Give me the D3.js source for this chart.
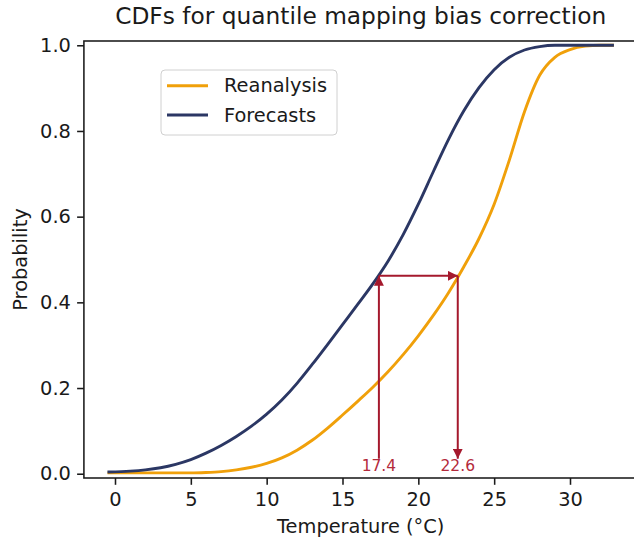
<!DOCTYPE html>
<html lang="en">
	<head>
		<meta charset="utf-8">
		<title>CDFs for quantile mapping bias correction</title>
		<script src="https://d3js.org/d3.v7.min.js"></script>
		<style type="text/css">
		body {
			margin: 0;
			background: white;
		}
		text {
			font-family: "DejaVu Sans", sans-serif;
			fill: #1a1a1a;
		}
		.tick text {
			font-size: 19.4px;
		}
		</style>
	</head>
	<body>
		<div id="chart"></div>
		<script type="text/javascript">

		//Data
		var temps = [-0.4, 1, 2, 3, 4, 5, 6, 7, 8, 9, 10, 11, 12, 13, 14, 15, 16,
			17, 18, 19, 20, 21, 22, 23, 24, 25, 26, 27, 28, 29, 30, 31, 32, 32.8];
		var reanalysis = [0.002, 0.002, 0.002, 0.002, 0.002, 0.002, 0.003, 0.005, 0.009, 0.015,
			0.024, 0.037, 0.055, 0.078, 0.106, 0.137, 0.169, 0.202, 0.238, 0.278,
			0.322, 0.370, 0.423, 0.483, 0.549, 0.629, 0.732, 0.845, 0.930, 0.972,
			0.990, 0.998, 1.0, 1.0];
		var forecasts = [0.004, 0.006, 0.009, 0.014, 0.022, 0.033, 0.048, 0.066, 0.087, 0.111,
			0.139, 0.172, 0.211, 0.255, 0.301, 0.348, 0.395, 0.443, 0.496, 0.558,
			0.629, 0.706, 0.781, 0.847, 0.901, 0.943, 0.972, 0.989, 0.997, 1.0,
			1.0, 1.0, 1.0, 1.0];
		var seriesNames = ["Reanalysis", "Forecasts"];
		var seriesColors = ["#f0a00a", "#2b3764"];
		var xTicks = [0, 5, 10, 15, 20, 25, 30];
		var yTicks = [0.0, 0.2, 0.4, 0.6, 0.8, 1.0];

		//quantile mapping example
		var mapFrom = 17.4;
		var mapTo = 22.6;
		var mapProb = 0.462;
		var arrowBase = 0.035;
		var arrowColor = "#a5192d";

		//Width and height
		var w = 634;
		var h = 539;
		var fs = 19.4; // 10pt at this dpi

		var xScale = d3.scaleLinear().domain([0, 30]).range([115, 570]);
		var yScale = d3.scaleLinear().domain([-0.01, 1.01]).range([478, 41]);
		var x0 = xScale(-2.05), x1 = xScale(34.45);
		var y0 = yScale(-0.01), y1 = yScale(1.01);

		var svg = d3.select("#chart")
			.append("svg")
			.attr("width", w)
			.attr("height", h);

		var defs = svg.append("defs");
		defs.append("marker")
			.attr("id", "head")
			.attr("markerUnits", "userSpaceOnUse")
			.attr("viewBox", "0 0 10 10")
			.attr("refX", 10)
			.attr("refY", 5)
			.attr("markerWidth", 10)
			.attr("markerHeight", 10)
			.attr("orient", "auto")
			.append("path")
			.attr("d", "M0,0 L10,5 L0,10 z")
			.attr("fill", arrowColor);

		//Curves
		var series = [reanalysis, forecasts];
		var line = d3.line()
			.x(function(d, i) { return xScale(temps[i]); })
			.y(function(d) { return yScale(d); })
			.curve(d3.curveMonotoneX);

		svg.selectAll("path.cdf")
			.data(series)
			.enter()
			.append("path")
			.attr("class", "cdf")
			.attr("d", line)
			.attr("fill", "none")
			.attr("stroke", function(d, i) { return seriesColors[i]; })
			.attr("stroke-width", 2.9)
			.attr("stroke-linecap", "square");

		//Arrows: up at forecast value, across, down to reanalysis value
		var arrows = [
			[[mapFrom, arrowBase], [mapFrom, mapProb]],
			[[mapFrom, mapProb], [mapTo, mapProb]],
			[[mapTo, mapProb], [mapTo, arrowBase]]
		];
		svg.selectAll("line.arrow")
			.data(arrows)
			.enter()
			.append("line")
			.attr("class", "arrow")
			.attr("x1", function(d) { return xScale(d[0][0]); })
			.attr("y1", function(d) { return yScale(d[0][1]); })
			.attr("x2", function(d) { return xScale(d[1][0]); })
			.attr("y2", function(d) { return yScale(d[1][1]); })
			.attr("stroke", arrowColor)
			.attr("stroke-width", 2)
			.attr("marker-end", "url(#head)");

		svg.selectAll("text.val")
			.data([mapFrom, mapTo])
			.enter()
			.append("text")
			.attr("class", "val")
			.attr("x", function(d) { return xScale(d); })
			.attr("y", yScale(0) - 3)
			.attr("text-anchor", "middle")
			.style("font-size", "15.5px")
			.style("fill", "#b42a3c")
			.text(function(d) { return d.toFixed(1); });

		//Frame
		svg.append("rect")
			.attr("x", x0)
			.attr("y", y1)
			.attr("width", x1 - x0)
			.attr("height", y0 - y1)
			.attr("fill", "none")
			.attr("stroke", "#1a1a1a")
			.attr("stroke-width", 1.55);

		//Axes
		var xAxis = d3.axisBottom(xScale)
			.tickValues(xTicks)
			.tickSize(6.8)
			.tickPadding(6.2)
			.tickFormat(d3.format("d"));
		var yAxis = d3.axisLeft(yScale)
			.tickValues(yTicks)
			.tickSize(6.8)
			.tickPadding(6.2)
			.tickFormat(d3.format(".1f"));

		var gx = svg.append("g")
			.attr("transform", "translate(0," + y0 + ")")
			.call(xAxis);
		gx.select(".domain").remove();
		gx.selectAll(".tick line").attr("stroke", "#1a1a1a").attr("stroke-width", 1.55);
		gx.selectAll(".tick text").attr("fill", "#1a1a1a").attr("dy", "0.77em");

		var gy = svg.append("g")
			.attr("transform", "translate(" + x0 + ",0)")
			.call(yAxis);
		gy.select(".domain").remove();
		gy.selectAll(".tick line").attr("stroke", "#1a1a1a").attr("stroke-width", 1.55);
		gy.selectAll(".tick text").attr("fill", "#1a1a1a");

		// title
		svg.append("text")
			.attr("x", (x0 + x1) / 2)
			.attr("y", 24)
			.attr("text-anchor", "middle")
			.style("font-size", "23.3px")
			.text("CDFs for quantile mapping bias correction");

		// x label
		svg.append("text")
			.attr("x", (x0 + x1) / 2)
			.attr("y", 533)
			.attr("text-anchor", "middle")
			.style("font-size", fs + "px")
			.text("Temperature (°C)");

		// y label
		svg.append("text")
			.attr("transform", "translate(27," + (y0 + y1) / 2 + ") rotate(-90)")
			.attr("text-anchor", "middle")
			.style("font-size", fs + "px")
			.text("Probability");

		//Legend
		var legend = svg.append("g").attr("transform", "translate(161,70)");
		legend.append("rect")
			.attr("width", 176)
			.attr("height", 65)
			.attr("rx", 4)
			.attr("fill", "white")
			.attr("fill-opacity", 0.8)
			.attr("stroke", "#d0d0d0")
			.attr("stroke-width", 1);
		var items = legend.selectAll("g.item")
			.data(seriesNames)
			.enter()
			.append("g")
			.attr("class", "item")
			.attr("transform", function(d, i) { return "translate(0," + (15.7 + i * 29.3) + ")"; });
		items.append("line")
			.attr("x1", 6)
			.attr("x2", 47)
			.attr("stroke", function(d, i) { return seriesColors[i]; })
			.attr("stroke-width", 2.9);
		items.append("text")
			.attr("x", 63)
			.attr("dy", "0.35em")
			.style("font-size", fs + "px")
			.text(function(d) { return d; });

		</script>
	</body>
</html>
